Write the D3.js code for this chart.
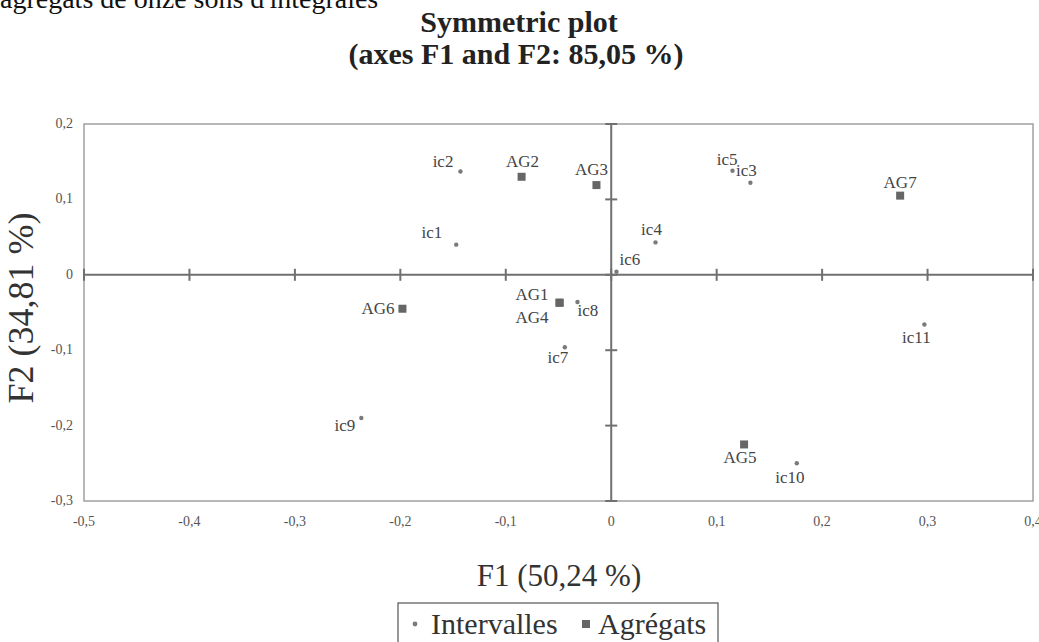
<!DOCTYPE html>
<html>
<head>
<meta charset="utf-8">
<script src="https://cdn.jsdelivr.net/npm/d3@7"></script>
<style>
  body { margin: 0; background: #fff; }
  svg { display: block; font-family: "Liberation Serif", "DejaVu Serif", serif; }
</style>
</head>
<body>
<div id="chart"></div>
<script>
// intervals (ic) and aggregates (AG), coordinates on F1 / F2
const intervalNames = ["ic1", "ic2", "ic3", "ic4", "ic5", "ic6", "ic7", "ic8", "ic9", "ic10", "ic11"];
const intervalF1 = [-0.147, -0.143, 0.132, 0.042, 0.115, 0.005, -0.044, -0.032, -0.237, 0.176, 0.297];
const intervalF2 = [0.040, 0.137, 0.122, 0.043, 0.138, 0.004, -0.096, -0.036, -0.190, -0.250, -0.066];

const aggregateNames = ["AG1", "AG2", "AG3", "AG4", "AG5", "AG6", "AG7"];
const aggregateF1 = [-0.049, -0.085, -0.014, -0.049, 0.126, -0.198, 0.274];
const aggregateF2 = [-0.037, 0.130, 0.119, -0.037, -0.225, -0.045, 0.105];

const xTicks = [-0.5, -0.4, -0.3, -0.2, -0.1, 0, 0.1, 0.2, 0.3, 0.4];
const yTicks = [-0.3, -0.2, -0.1, 0, 0.1, 0.2];

// where each label sits around its point
const labelPlace = {
  ic1: ["end", -14, -7], ic2: ["end", -7, -5], ic3: ["middle", -4, -7],
  ic4: ["middle", -4, -7], ic5: ["end", 5, -6], ic6: ["start", 3, -7],
  ic7: ["middle", -7, 16], ic8: ["start", 0, 14], ic9: ["end", -6, 13],
  ic10: ["middle", -7, 20], ic11: ["middle", -8, 18],
  AG1: ["end", -11, -3], AG2: ["middle", 1, -10], AG3: ["middle", -5, -10],
  AG4: ["end", -11, 20], AG5: ["middle", -4, 19], AG6: ["end", -8, 5],
  AG7: ["middle", 0, -8]
};

const width = 1039, height = 642;
const svg = d3.select("#chart").append("svg").attr("width", width).attr("height", height);

const x = d3.scaleLinear().domain([-0.5, 0.4]).range([84, 1033]);
const y = d3.scaleLinear().domain([-0.3, 0.2]).range([501, 124]);
const fmt = d => d === 0 ? "0" : d3.format(".1f")(d).replace(".", ",").replace("−", "-");

// caption line cut off by the crop
svg.append("text").attr("x", 0).attr("y", 8)
  .attr("font-size", 28).attr("fill", "#111")
  .text("agrégats de onze sons d'intégrales");

// title
svg.append("text").attr("x", 519).attr("y", 32).attr("text-anchor", "middle")
  .attr("font-size", 30).attr("font-weight", "bold").attr("fill", "#222")
  .text("Symmetric plot");
svg.append("text").attr("x", 516).attr("y", 64).attr("text-anchor", "middle")
  .attr("font-size", 30).attr("font-weight", "bold").attr("fill", "#222")
  .text("(axes F1 and F2: 85,05 %)");

// plot frame
svg.append("rect")
  .attr("x", x(-0.5)).attr("y", y(0.2))
  .attr("width", x(0.4) - x(-0.5)).attr("height", y(-0.3) - y(0.2))
  .attr("fill", "none").attr("stroke", "#a0a0a0").attr("stroke-width", 1.5);

// axes crossing at zero
const axes = svg.append("g").attr("stroke", "#707070").attr("stroke-width", 2);
axes.append("line").attr("x1", x(-0.5)).attr("x2", x(0.4)).attr("y1", y(0)).attr("y2", y(0));
axes.append("line").attr("x1", x(0)).attr("x2", x(0)).attr("y1", y(0.2)).attr("y2", y(-0.3));
axes.selectAll(".xt").data(xTicks).join("line")
  .attr("x1", d => x(d)).attr("x2", d => x(d)).attr("y1", y(0) - 6).attr("y2", y(0) + 6);
axes.selectAll(".yt").data(yTicks).join("line")
  .attr("x1", x(0) - 6).attr("x2", x(0) + 6).attr("y1", d => y(d)).attr("y2", d => y(d));

// tick labels
svg.append("g").selectAll("text").data(xTicks).join("text")
  .attr("x", d => x(d)).attr("y", 526).attr("text-anchor", "middle")
  .attr("font-size", 14).attr("fill", "#555").text(fmt);
svg.append("g").selectAll("text").data(yTicks).join("text")
  .attr("x", 73).attr("y", d => y(d) + 4).attr("text-anchor", "end")
  .attr("font-size", 14).attr("fill", "#555").text(fmt);

// axis titles
svg.append("text").attr("x", 559).attr("y", 586).attr("text-anchor", "middle")
  .attr("font-size", 31).attr("fill", "#333").text("F1 (50,24 %)");
svg.append("text").attr("transform", "translate(33,308) rotate(-90)").attr("text-anchor", "middle")
  .attr("font-size", 36).attr("fill", "#333").text("F2 (34,81 %)");

// points
const intervals = intervalNames.map((n, i) => ({ name: n, f1: intervalF1[i], f2: intervalF2[i] }));
const aggregates = aggregateNames.map((n, i) => ({ name: n, f1: aggregateF1[i], f2: aggregateF2[i] }));

svg.append("g").selectAll("circle").data(intervals).join("circle")
  .attr("cx", d => x(d.f1)).attr("cy", d => y(d.f2)).attr("r", 2.2).attr("fill", "#7a7a7a");
svg.append("g").selectAll("rect").data(aggregates).join("rect")
  .attr("x", d => x(d.f1) - 4).attr("y", d => y(d.f2) - 4)
  .attr("width", 8).attr("height", 8).attr("fill", "#666");

svg.append("g").selectAll("text").data(intervals.concat(aggregates)).join("text")
  .attr("x", d => x(d.f1) + labelPlace[d.name][1])
  .attr("y", d => y(d.f2) + labelPlace[d.name][2])
  .attr("text-anchor", d => labelPlace[d.name][0])
  .attr("font-size", 17).attr("fill", "#444")
  .text(d => d.name);

// legend
const lg = svg.append("g");
lg.append("rect").attr("x", 398).attr("y", 603).attr("width", 320).attr("height", 50)
  .attr("fill", "#fff").attr("stroke", "#555").attr("stroke-width", 1.2);
lg.append("circle").attr("cx", 415).attr("cy", 624).attr("r", 2.4).attr("fill", "#7a7a7a");
lg.append("text").attr("x", 431).attr("y", 634).attr("font-size", 30).attr("fill", "#333").text("Intervalles");
lg.append("rect").attr("x", 582).attr("y", 620).attr("width", 8).attr("height", 8).attr("fill", "#666");
lg.append("text").attr("x", 598).attr("y", 634).attr("font-size", 30).attr("fill", "#333").text("Agrégats");
</script>
</body>
</html>
